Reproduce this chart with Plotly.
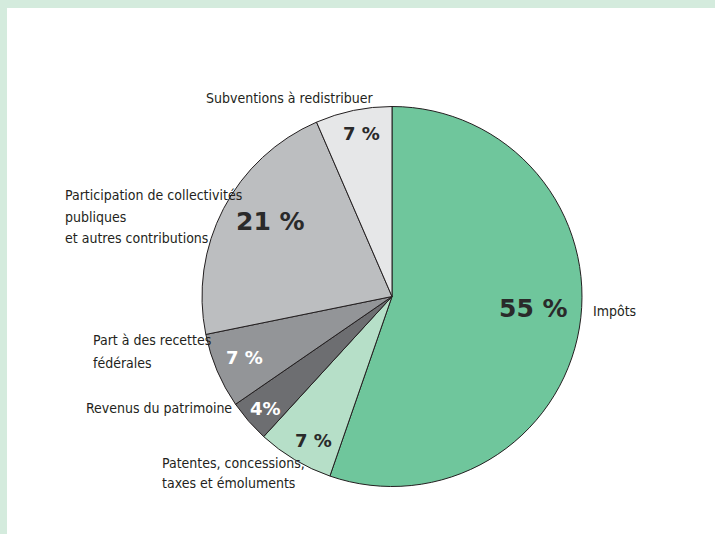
import math
import plotly.graph_objects as go

# ---- data ----
categories = ["Impôts", "Patentes, concessions, taxes et émoluments", "Revenus du patrimoine",
              "Part à des recettes fédérales", "Participation de collectivités publiques et autres contributions",
              "Subventions à redistribuer"]
shares = [55.3, 6.5, 3.6, 6.4, 21.7, 6.5]          # slice shares (%)
pct_labels = ["55 %", "7 %", "4%", "7 %", "21 %", "7 %"]

# ---- style ----
colors = ["#6fc69c", "#b6dfc8", "#6d6e71", "#939598", "#bcbec0", "#e6e7e8"]
pct_colors = ["#2a2a2a", "#2a2a2a", "#ffffff", "#ffffff", "#2a2a2a", "#2a2a2a"]
pct_sizes = [25, 18, 18, 18, 25, 18]
pct_radius = [0.745, 0.862, 0.887, 0.84, 0.75, 0.87]
pct_angle_shift = [-4.6, -2.0, -0.4, 0.4, 4.0, 1.2]   # degrees, label placement tweak

W, H = 715, 534
ML, MT = 7, 8
PW, PH = W - ML, H - MT
CX, CY, R = 392, 296.5, 190

def px2paper(px, py):
    return (px - ML) / PW, (H - py) / PH

x0, y1 = px2paper(CX - R, CY - R)
x1, y0 = px2paper(CX + R, CY + R)

fig = go.Figure(go.Pie(
    labels=categories, values=shares, sort=False, direction="clockwise", rotation=0,
    marker=dict(colors=colors, line=dict(color="#231f20", width=1)),
    textinfo="none", hoverinfo="label+percent", showlegend=False,
    domain=dict(x=[x0, x1], y=[y0, y1]),
))

annotations = []
total = sum(shares)
cum = 0
for s, lab, c, fs, f, da in zip(shares, pct_labels, pct_colors, pct_sizes, pct_radius, pct_angle_shift):
    mid = (cum + s / 2) / total * 2 * math.pi + math.radians(da)
    cum += s
    px = CX + f * R * math.sin(mid)
    py = CY - f * R * math.cos(mid)
    xp, yp = px2paper(px, py)
    annotations.append(dict(x=xp, y=yp, xref="paper", yref="paper", text=f"<b>{lab}</b>",
                            showarrow=False, xanchor="center", yanchor="middle",
                            font=dict(family="DejaVu Sans", size=fs, color=c)))

label_font = dict(family="DejaVu Sans Condensed, sans-serif", size=14, color="#231f20")
outside = [
    ("Subventions à redistribuer", 376, 98, "right"),
    ("Participation de collectivités", 63, 195, "left"),
    ("publiques", 63, 217, "left"),
    ("et autres contributions", 63, 238, "left"),
    ("Part à des recettes", 91, 340, "left"),
    ("fédérales", 91, 363, "left"),
    ("Revenus du patrimoine", 234, 408, "right"),
    ("Impôts", 591, 311, "left"),
    ("Patentes, concessions,", 160, 463, "left"),
    ("taxes et émoluments", 160, 483, "left"),
]
for t, px, py, anc in outside:
    xp, yp = px2paper(px, py)
    annotations.append(dict(x=xp, y=yp, xref="paper", yref="paper", text=t, showarrow=False,
                            xanchor=anc, yanchor="middle", font=label_font))

fig.update_layout(
    width=W, height=H,
    margin=dict(l=ML, t=MT, r=0, b=0),
    paper_bgcolor="#d4ebdd",
    shapes=[dict(type="rect", xref="paper", yref="paper", x0=0, x1=1, y0=0, y1=1,
                 fillcolor="#ffffff", line=dict(width=0), layer="below")],
    annotations=annotations,
)

fig.write_html("out.html")
